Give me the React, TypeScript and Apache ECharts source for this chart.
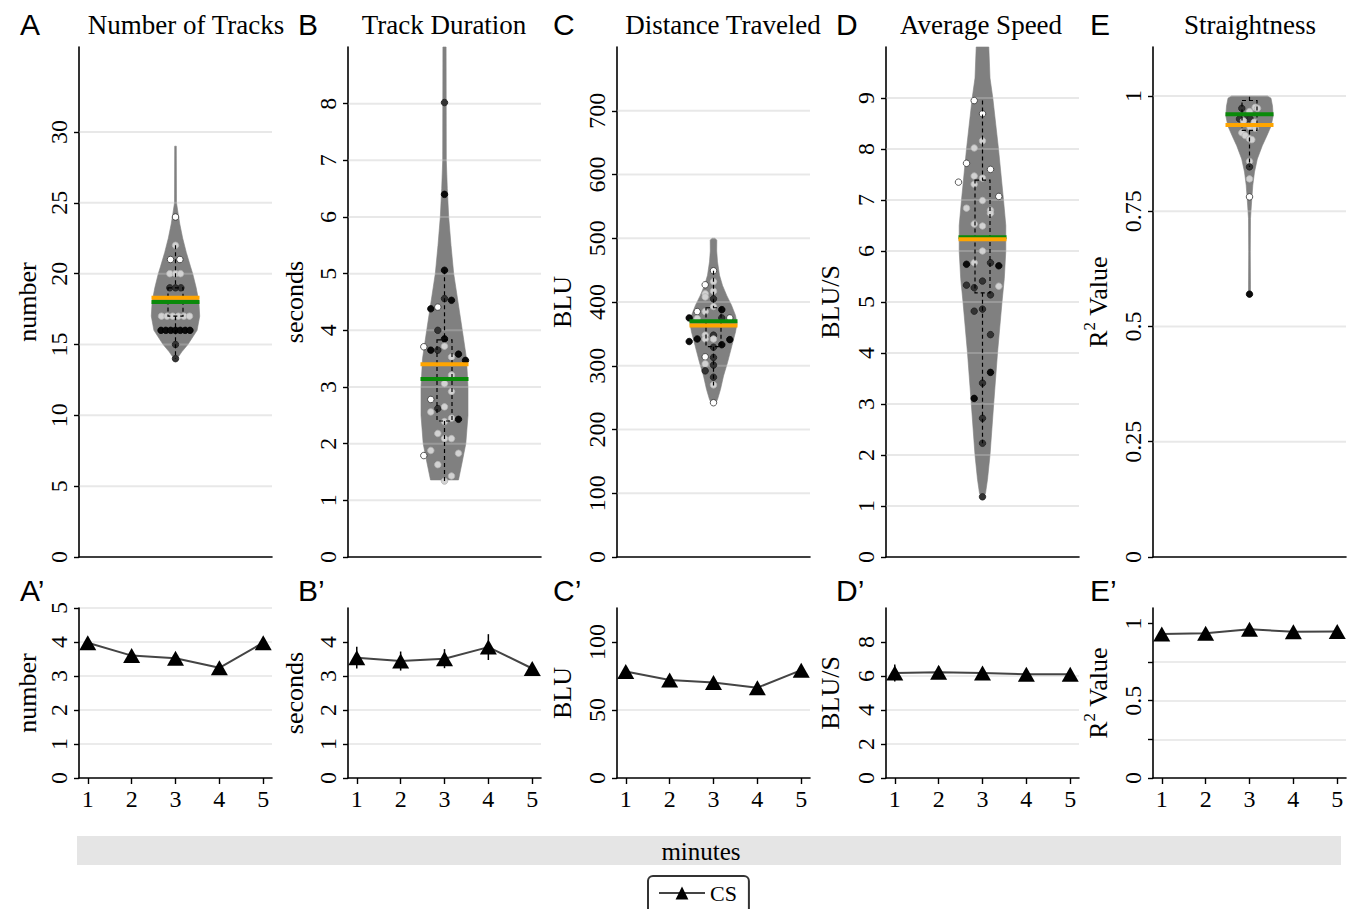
import React, { useEffect, useRef } from "react";
import * as echarts from "echarts";

// ---------- texts ----------
const topTitles = ["Number of Tracks", "Track Duration", "Distance Traveled", "Average Speed", "Straightness"];
const topLetters = ["A", "B", "C", "D", "E"];
const bottomLetters = ["A\u2019", "B\u2019", "C\u2019", "D\u2019", "E\u2019"];
const axisNames = ["number", "seconds", "BLU", "BLU/S", "R2 Value"];

// ---------- top row axes ----------
const topMax = [36, 9, 800, 10, 1.106];
const topTicksA = [0, 5, 10, 15, 20, 25, 30];
const topTicksB = [0, 1, 2, 3, 4, 5, 6, 7, 8];
const topTicksC = [0, 100, 200, 300, 400, 500, 600, 700];
const topTicksD = [0, 1, 2, 3, 4, 5, 6, 7, 8, 9];
const topTicksE = [0, 0.25, 0.5, 0.75, 1];
const topTicks = [topTicksA, topTicksB, topTicksC, topTicksD, topTicksE];

// ---------- violin outlines (value, half width in density units) ----------
const violinValA = [29.0, 25.0, 24.3, 23.5, 22.5, 21.5, 20.5, 20.0, 19.0, 18.0, 17.0, 16.0, 15.0, 14.5, 14.1, 13.95];
const violinWidA = [0.8, 1.0, 2.5, 4.3, 7.2, 10.8, 15.0, 17.2, 20.7, 23.4, 24.2, 21.6, 12.4, 6.5, 2.5, 0];
const violinValB = [9.0, 7.0, 6.5, 6.0, 5.5, 5.0, 4.5, 4.0, 3.5, 3.0, 2.5, 2.0, 1.66, 1.36];
const violinWidB = [1.6, 1.8, 2.8, 4.2, 6.5, 9.2, 13.5, 17.8, 22.0, 23.5, 23.5, 21.3, 17.5, 14.0];
const violinValC = [500, 497, 480, 463, 442, 426, 410, 395, 379, 366, 353, 332, 305, 284, 263, 247, 241, 238];
const violinWidC = [1.5, 3.3, 3.2, 4.0, 6.0, 9.0, 13.3, 18.0, 22.0, 23.5, 22.0, 18.5, 14.0, 10.0, 7.0, 4.0, 2.0, 0];
const violinValD = [10.0, 9.39, 9.0, 8.0, 7.0, 6.5, 6.0, 5.46, 5.0, 4.0, 3.0, 2.0, 1.52, 1.25, 1.12];
const violinWidD = [6.3, 7.5, 10.3, 16.0, 21.0, 23.3, 23.3, 21.8, 19.5, 15.0, 11.2, 7.5, 5.0, 3.0, 0];
const violinValE = [1.0, 0.995, 0.978, 0.957, 0.935, 0.914, 0.892, 0.863, 0.835, 0.806, 0.777, 0.734, 0.662, 0.59, 0.575, 0.57];
const violinWidE = [18.0, 21.5, 23.0, 23.7, 21.7, 17.5, 12.8, 7.8, 5.0, 3.3, 2.3, 1.0, 0.8, 1.0, 1.0, 0];
const violinVals = [violinValA, violinValB, violinValC, violinValD, violinValE];
const violinWids = [violinWidA, violinWidB, violinWidC, violinWidD, violinWidE];

// ---------- box plot statistics ----------
const boxQ1 = [17, 2.4, 330, 5.18, 0.925];
const boxQ3 = [19, 3.83, 391, 7.39, 0.99];
const whiskerLo = [14, 1.34, 269, 2.23, 0.846];
const whiskerHi = [22, 5.06, 449, 8.95, 0.998];
const medians = [18.0, 3.14, 370, 6.27, 0.96];
const means = [18.3, 3.4, 363, 6.23, 0.937];

// ---------- individual tracks [jitter, value, shade] ----------
const dotsA = [
  [0, 24, "w"], [0, 22, "l"], [-5, 21, "w"], [4.4, 21, "w"], [-5.7, 20, "l"], [0, 20, "l"], [5, 20, "l"],
  [-5.7, 19, "d"], [0, 19, "d"], [5.4, 19, "d"],
  [-14, 17, "l"], [-8.4, 17, "l"], [-2.8, 17, "l"], [2.8, 17, "l"], [8.4, 17, "l"], [14, 17, "l"],
  [-14.5, 16, "k"], [-9.7, 16, "k"], [-4.8, 16, "k"], [0, 16, "k"], [4.8, 16, "k"], [9.7, 16, "k"], [14.5, 16, "k"],
  [0, 15, "d"], [0, 14, "d"],
];
const dotsB = [
  [0, 5.06, "k"], [0, 4.56, "d"], [7, 4.53, "k"], [-13.7, 4.38, "k"], [-6.7, 4.41, "w"], [-6.7, 4.0, "d"],
  [0, 3.85, "k"], [-20.7, 3.71, "w"], [-13.7, 3.65, "k"], [-6.7, 3.65, "d"], [0, 3.72, "l"], [14, 3.58, "k"],
  [21, 3.47, "k"], [7, 3.53, "l"], [7, 3.21, "l"], [0, 3.06, "l"], [7, 2.92, "l"], [-13.7, 2.78, "w"],
  [-13.7, 2.56, "l"], [-6.7, 2.62, "d"], [0, 2.65, "l"], [7, 2.45, "l"], [14, 2.43, "k"], [0, 2.39, "l"],
  [-6.7, 2.18, "l"], [0, 2.09, "l"], [7, 2.09, "l"], [-20.7, 1.79, "w"], [-13.7, 1.88, "l"], [14, 1.83, "l"],
  [-6.7, 1.63, "l"], [7, 1.43, "l"], [0, 1.34, "l"], [0, 8.02, "d"], [0, 6.4, "k"],
];
const dotsC = [
  [0, 449, "w"], [0, 432, "l"], [-8.3, 427, "w"], [0, 417, "l"], [-8.3, 413, "l"], [-8.3, 408, "l"], [0, 405, "d"],
  [0, 393, "l"], [-16.3, 385, "w"], [-8.3, 385, "l"], [8.3, 388, "k"], [-24.3, 375, "k"], [16.3, 375, "w"],
  [-16.3, 374, "l"], [8.3, 375, "d"], [-8.3, 348, "l"], [-8.3, 342, "l"], [0, 348, "d"], [0, 342, "l"],
  [-16.3, 342, "k"], [-24.3, 338, "k"], [8.3, 333, "k"], [16.3, 341, "k"], [0, 329, "d"], [-8.3, 314, "w"],
  [-8.3, 303, "l"], [0, 313, "d"], [0, 301, "d"], [-8.3, 292, "d"], [0, 282, "d"], [0, 270, "l"], [0, 242, "w"],
];
const dotsD = [
  [-8.3, 8.95, "w"], [0, 8.69, "w"], [0, 8.16, "l"], [-8.3, 8.02, "l"], [-16, 7.72, "w"], [8, 7.6, "w"],
  [-8.3, 7.47, "l"], [0, 7.43, "l"], [-8.3, 7.31, "l"], [-24, 7.35, "w"], [16.3, 7.07, "w"], [0, 6.99, "l"],
  [-16, 6.84, "l"], [8, 6.8, "l"], [8, 6.74, "l"], [-8.3, 6.53, "l"], [0, 6.49, "l"], [0, 6.0, "l"],
  [-16, 5.74, "k"], [-8.3, 5.77, "l"], [8, 5.77, "d"], [16.3, 5.71, "k"], [-16, 5.33, "d"], [-8.3, 5.28, "d"],
  [0, 5.41, "d"], [16.3, 5.31, "l"], [8, 5.14, "d"], [0, 4.86, "d"], [-8.3, 4.82, "d"], [8, 4.36, "d"],
  [8, 3.62, "k"], [0, 3.41, "d"], [-8.3, 3.11, "k"], [0, 2.72, "d"], [0, 2.23, "d"], [0, 1.18, "d"],
];
const dotsE = [
  [-7.7, 0.973, "d"], [5.7, 0.975, "l"], [8, 0.973, "l"], [0, 0.966, "l"], [-10, 0.95, "d"], [-2.7, 0.95, "d"],
  [0.7, 0.95, "d"], [-6, 0.946, "l"], [4.7, 0.943, "l"], [0.7, 0.932, "l"], [5.7, 0.93, "l"], [-7.7, 0.92, "l"],
  [-4.3, 0.914, "l"], [0, 0.907, "l"], [2.3, 0.905, "l"], [0, 0.858, "l"], [0, 0.846, "d"], [0, 0.82, "l"],
  [0, 0.781, "w"], [0, 0.57, "k"],
];
const topDots = [dotsA, dotsB, dotsC, dotsD, dotsE];

// ---------- bottom row: per-minute means ----------
const minutes = [1, 2, 3, 4, 5];
const meanTracks = [3.98, 3.6, 3.52, 3.24, 3.98];
const errTracks = [0.06, 0.07, 0.06, 0.08, 0.05];
const meanDuration = [3.54, 3.44, 3.51, 3.85, 3.22];
const errDuration = [0.32, 0.28, 0.28, 0.38, 0.12];
const meanDistance = [78.3, 72.0, 70.3, 66.4, 79.3];
const errDistance = [2, 2, 2, 2, 2];
const meanSpeed = [6.17, 6.22, 6.18, 6.1, 6.1];
const errSpeed = [0.5, 0.35, 0.2, 0.15, 0.15];
const meanStraight = [0.932, 0.936, 0.962, 0.947, 0.948];
const errStraight = [0.01, 0.01, 0.01, 0.01, 0.01];
const bottomMeans = [meanTracks, meanDuration, meanDistance, meanSpeed, meanStraight];
const bottomErrs = [errTracks, errDuration, errDistance, errSpeed, errStraight];

const bottomMax = [5, 5, 125, 10, 1.1];
const bottomInterval = [1, 1, 50, 2, 0.25];
const bottomLabelsA = [0, 1, 2, 3, 4, 5];
const bottomLabelsB = [0, 1, 2, 3, 4];
const bottomLabelsC = [0, 50, 100];
const bottomLabelsD = [0, 2, 4, 6, 8];
const bottomLabelsE = [0, 0.5, 1];
const bottomLabels = [bottomLabelsA, bottomLabelsB, bottomLabelsC, bottomLabelsD, bottomLabelsE];
const bottomTicksE = [0, 0.25, 0.5, 0.75, 1];
const bottomTicks = [bottomLabelsA, bottomLabelsB, bottomLabelsC, bottomLabelsD, bottomTicksE];
const bottomShowMax = [true, false, false, false, false];

// ---------- layout ----------
const LEFTS = [79, 348, 617, 886, 1153];
const PW = 193;
const TITLE_X = [186, 444, 723, 981, 1250];
const LETTER_X = [20, 298, 553, 836, 1090];
const NAME_GAP = [39, 41, 42, 43, 42];
const XR = 96.5;

const SERIF = "Liberation Serif";
const SANS = "Liberation Sans";

const SHADE_FILL: any = { k: "#0a0a0a", d: "#333333", l: "#d2d2d2", w: "#ffffff" };
const SHADE_STROKE: any = { k: "#000000", d: "#1e1e1e", l: "#b5b5b5", w: "#333333" };

function buildOption() {
  const grid: any[] = [];
  const xAxis: any[] = [];
  const yAxis: any[] = [];
  const series: any[] = [];

  const axisNameStyle = { fontFamily: SERIF, fontSize: 26, color: "#000" };
  const richName = {
    r: { fontFamily: SERIF, fontSize: 26, color: "#000", lineHeight: 30, verticalAlign: "bottom" },
    s: { fontFamily: SERIF, fontSize: 17, color: "#000", lineHeight: 17, verticalAlign: "top" },
  };
  const nameFor = (i: number) => (i === 4 ? "{r|R}{s|2}{r| Value}" : axisNames[i]);
  const tickLabelStyle = { fontFamily: SERIF, fontSize: 24, color: "#000" };

  for (let i = 0; i < 5; i++) {
    // ----- top violin panel -----
    grid.push({ left: LEFTS[i], top: 47, width: PW, height: 510 });
    xAxis.push({
      type: "value", gridIndex: i, min: -XR, max: XR,
      axisLine: { show: true, onZero: false, lineStyle: { color: "#000", width: 1.6 } },
      axisTick: { show: false }, axisLabel: { show: false }, splitLine: { show: false },
    });
    yAxis.push({
      type: "value", gridIndex: i, min: 0, max: topMax[i], position: "left",
      name: nameFor(i), nameLocation: "middle", nameGap: NAME_GAP[i],
      nameTextStyle: i === 4 ? { rich: richName } : axisNameStyle,
      axisLine: { show: true, onZero: false, lineStyle: { color: "#000", width: 1.6 } },
      axisTick: { show: true, length: 5, customValues: topTicks[i], lineStyle: { color: "#000", width: 1.4 } },
      axisLabel: { show: true, customValues: topTicks[i], rotate: 90, margin: 8, ...tickLabelStyle },
      splitLine: { show: false },
    });
    const vals = violinVals[i];
    const wids = violinWids[i];
    const gridVals = topTicks[i].filter((v) => v > 0);
    series.push({
      type: "custom", name: "violin" + i, xAxisIndex: i, yAxisIndex: i, z: 2, silent: true,
      data: [[0, vals[0]]],
      renderItem: (_p: any, api: any) => {
        const left = vals.map((v, k) => api.coord([-wids[k], v]));
        const right = vals.map((v, k) => api.coord([wids[k], v])).reverse();
        const children: any[] = [
          { type: "polygon", shape: { points: left.concat(right) }, style: { fill: "#808080", stroke: "#808080", lineWidth: 0.6 } },
        ];
        gridVals.forEach((g) => {
          const a = api.coord([-XR, g]);
          const b = api.coord([XR, g]);
          children.push({
            type: "line", shape: { x1: a[0], y1: a[1], x2: b[0], y2: b[1] },
            style: { stroke: "rgba(195,195,195,0.38)", lineWidth: 2 },
          });
        });
        return { type: "group", children };
      },
    });
    series.push({
      type: "scatter", name: "tracks" + i, xAxisIndex: i, yAxisIndex: i, z: 3, silent: true,
      symbol: "circle", symbolSize: 6.5,
      data: topDots[i].map((d: any) => ({
        value: [d[0], d[1]],
        itemStyle: { color: SHADE_FILL[d[2]], borderColor: SHADE_STROKE[d[2]], borderWidth: 0.8, opacity: 1 },
      })),
    });
    const q1 = boxQ1[i], q3 = boxQ3[i], lo = whiskerLo[i], hi = whiskerHi[i], med = medians[i], mn = means[i];
    series.push({
      type: "custom", name: "box" + i, xAxisIndex: i, yAxisIndex: i, z: 4, silent: true,
      data: [[0, med]],
      renderItem: (_p: any, api: any) => {
        const dash = { stroke: "#000", lineWidth: 1.2, lineDash: [4, 3], fill: "none" };
        const tl = api.coord([-7.5, q3]);
        const br = api.coord([7.5, q1]);
        const c1 = api.coord([0, hi]);
        const c2 = api.coord([0, q3]);
        const c3 = api.coord([0, q1]);
        const c4 = api.coord([0, lo]);
        const m1 = api.coord([-24, med]);
        const m2 = api.coord([24, med]);
        const a1 = api.coord([-24, mn]);
        const a2 = api.coord([24, mn]);
        return {
          type: "group",
          children: [
            { type: "rect", shape: { x: tl[0], y: tl[1], width: br[0] - tl[0], height: br[1] - tl[1] }, style: dash },
            { type: "line", shape: { x1: c1[0], y1: c1[1], x2: c2[0], y2: c2[1] }, style: dash },
            { type: "line", shape: { x1: c3[0], y1: c3[1], x2: c4[0], y2: c4[1] }, style: dash },
            { type: "line", shape: { x1: m1[0], y1: m1[1], x2: m2[0], y2: m2[1] }, style: { stroke: "#0a8a0a", lineWidth: 4 } },
            { type: "line", shape: { x1: a1[0], y1: a1[1], x2: a2[0], y2: a2[1] }, style: { stroke: "#FFA500", lineWidth: 4 } },
          ],
        };
      },
    });
  }

  for (let i = 0; i < 5; i++) {
    const gi = 5 + i;
    grid.push({ left: LEFTS[i], top: 608, width: PW, height: 170 });
    xAxis.push({
      type: "value", gridIndex: gi, min: 0.8, max: 5.2,
      axisLine: { show: true, onZero: false, lineStyle: { color: "#000", width: 1.6 } },
      axisTick: { show: true, length: 6, customValues: minutes, lineStyle: { color: "#000", width: 1.4 } },
      axisLabel: { show: true, customValues: minutes, margin: 9, ...tickLabelStyle },
      splitLine: { show: false },
    });
    yAxis.push({
      type: "value", gridIndex: gi, min: 0, max: bottomMax[i], interval: bottomInterval[i], position: "left",
      name: nameFor(i), nameLocation: "middle", nameGap: NAME_GAP[i],
      nameTextStyle: i === 4 ? { rich: richName } : axisNameStyle,
      axisLine: { show: true, onZero: false, lineStyle: { color: "#000", width: 1.6 } },
      axisTick: { show: true, length: 5, customValues: bottomTicks[i], lineStyle: { color: "#000", width: 1.4 } },
      axisLabel: { show: true, customValues: bottomLabels[i], rotate: 90, margin: 8, ...tickLabelStyle },
      splitLine: {
        show: true, showMinLine: false, showMaxLine: bottomShowMax[i],
        lineStyle: { color: "#ebebeb", width: 2 },
      },
    });
    const mv = bottomMeans[i];
    const ev = bottomErrs[i];
    series.push({
      type: "custom", name: "err" + i, xAxisIndex: gi, yAxisIndex: gi, z: 3, silent: true,
      encode: { x: 0, y: [1, 2] },
      data: minutes.map((m, j) => [m, mv[j] - ev[j], mv[j] + ev[j]]),
      renderItem: (_p: any, api: any) => {
        const a = api.coord([api.value(0), api.value(1)]);
        const b = api.coord([api.value(0), api.value(2)]);
        return { type: "line", shape: { x1: a[0], y1: a[1], x2: b[0], y2: b[1] }, style: { stroke: "#000", lineWidth: 1.5 } };
      },
    });
    series.push({
      type: "line", name: "CS", xAxisIndex: gi, yAxisIndex: gi, z: 4, silent: true,
      data: minutes.map((m, j) => [m, mv[j]]),
      symbol: "triangle", symbolSize: [17, 15],
      itemStyle: { color: "#000" },
      lineStyle: { color: "#444", width: 2 },
    });
  }

  const graphic: any[] = [];
  for (let i = 0; i < 5; i++) {
    graphic.push({
      type: "text", x: LETTER_X[i], y: 24,
      style: { text: topLetters[i], font: `30px "${SANS}"`, fill: "#000", align: "left", verticalAlign: "middle" },
    });
    graphic.push({
      type: "text", x: LETTER_X[i], y: 590,
      style: { text: bottomLetters[i], font: `30px "${SANS}"`, fill: "#000", align: "left", verticalAlign: "middle" },
    });
    graphic.push({
      type: "text", x: TITLE_X[i], y: 25,
      style: { text: topTitles[i], font: `27px "${SERIF}"`, fill: "#000", align: "center", verticalAlign: "middle" },
    });
  }
  graphic.push({ type: "rect", shape: { x: 77, y: 836, width: 1264, height: 29 }, style: { fill: "#e5e5e5" }, z: -1 });
  graphic.push({
    type: "text", x: 701, y: 851,
    style: { text: "minutes", font: `25px "${SERIF}"`, fill: "#000", align: "center", verticalAlign: "middle" },
  });

  return {
    animation: false,
    backgroundColor: "#ffffff",
    grid, xAxis, yAxis, series, graphic,
    legend: {
      data: ["CS"], left: 648, top: 876, orient: "horizontal",
      itemWidth: 46, itemHeight: 16,
      borderColor: "#333", borderWidth: 2, borderRadius: 5, padding: [6, 12, 10, 10],
      textStyle: { fontFamily: SERIF, fontSize: 22, color: "#000" },
      selectedMode: false,
    },
  };
}

export default function App() {
  const ref = useRef<HTMLDivElement>(null);
  useEffect(() => {
    if (!ref.current) return;
    const chart = echarts.init(ref.current, null, { renderer: "svg" });
    chart.setOption(buildOption() as any);
    return () => chart.dispose();
  }, []);
  return <div ref={ref} style={{ position: "absolute", left: 0, top: 0, width: 1355, height: 909 }} />;
}
